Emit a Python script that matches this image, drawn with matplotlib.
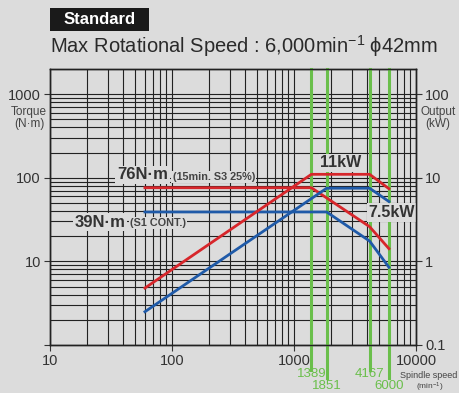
import matplotlib
matplotlib.use('Agg')
import matplotlib.pyplot as plt
import matplotlib.transforms as mtransforms
from matplotlib.patches import Rectangle

# ---------- data ----------
rpm_s3 = [60, 1389, 4167, 6000]
torque_s3 = [76, 76, 26, 14.2]          # N*m, 15min S3 25%
output_s3 = [0.48, 11, 11, 7.4]         # kW
rpm_s1 = [60, 1851, 4167, 6000]
torque_s1 = [39, 39, 17.5, 8.5]         # N*m, S1 cont.
output_s1 = [0.25, 7.5, 7.5, 5.2]       # kW
marker_rpm = [1389, 1851, 4167, 6000]
marker_labels = ['1389', '1851', '4167', '6000']

BG = '#dcdcdc'
RED = '#d7262b'
BLUE = '#1f5aa8'
GREEN = '#6abf4b'
TXT = '#333333'
plt.rcParams['font.family'] = ['Liberation Sans', 'DejaVu Sans']
plt.rcParams['mathtext.default'] = 'regular'

W, H = 460, 393
fig = plt.figure(figsize=(W / 100, H / 100), dpi=100, facecolor=BG)
ax = fig.add_axes([50 / W, 48 / H, 366 / W, 276 / H], facecolor=BG)
ax2 = ax.twinx()

ax.set_xscale('log'); ax.set_yscale('log'); ax2.set_yscale('log')
ax.set_xlim(10, 10000)
ax.set_ylim(1, 2000)
ax2.set_ylim(0.1, 200)

ax.grid(True, which='both', color='#222222', lw=0.8)
ax.set_axisbelow(True)

ax.set_xticks([10, 100, 1000, 10000])
ax.set_xticklabels(['10', '100', '1000', '10000'])
ax.set_yticks([1, 10, 100, 1000])
ax.set_yticklabels(['', '10', '100', '1000'])
ax2.set_yticks([0.1, 1, 10, 100])
ax2.set_yticklabels(['0.1', '1', '10', '100'])
for a in (ax, ax2):
    a.tick_params(which='minor', length=0)
    a.tick_params(which='major', length=4.5, width=0.8, labelsize=10.5, colors=TXT, pad=2)
    for s in a.spines.values():
        s.set_color('#222222'); s.set_linewidth(1.0)
ax2.yaxis.set_minor_formatter(plt.NullFormatter())
ax.yaxis.set_minor_formatter(plt.NullFormatter())
ax.xaxis.set_minor_formatter(plt.NullFormatter())

# green marker lines, labels staggered below the axis
trans = mtransforms.blended_transform_factory(ax.transData, ax.transAxes)
for i, (r, lab) in enumerate(zip(marker_rpm, marker_labels)):
    low = -0.09 if i % 2 == 0 else -0.12
    ax.plot([r, r], [1, low], transform=trans, color=GREEN, lw=2.2, clip_on=False, zorder=3)
    ty = -0.105 if i % 2 == 0 else -0.150
    ax.text(r, ty, lab, transform=trans, ha='center', va='center', color=GREEN, fontsize=9.5)

# curves
ax.plot(rpm_s3, torque_s3, color=RED, lw=2, zorder=4)
ax.plot(rpm_s1, torque_s1, color=BLUE, lw=2, zorder=4)
ax2.plot(rpm_s3, output_s3, color=RED, lw=2, zorder=4)
ax2.plot(rpm_s1, output_s1, color=BLUE, lw=2, zorder=4)

box = dict(boxstyle='square,pad=0.1', fc=BG, ec='none')
ax.text(35.5, 108, '76N·m', fontsize=12, fontweight='bold', color=TXT,
        va='center', ha='left', bbox=box, zorder=5)
ax.text(101, 102, '(15min. S3 25%)', fontsize=7.8, fontweight='bold', color='#444444',
        va='center', ha='left', bbox=box, zorder=5)
ax.text(15.8, 29.5, '39N·m', fontsize=12, fontweight='bold', color=TXT,
        va='center', ha='left', bbox=box, zorder=5)
ax.text(45, 29, '(S1 CONT.)', fontsize=7.8, fontweight='bold', color='#444444',
        va='center', ha='left', bbox=box, zorder=5)
ax.text(2430, 151, '11kW', fontsize=11.5, fontweight='bold', color=TXT,
        va='center', ha='center', bbox=box, zorder=5)
ax.text(6300, 38.5, '7.5kW', fontsize=11.5, fontweight='bold', color=TXT,
        va='center', ha='center', bbox=box, zorder=5)

# axis titles
fig.text(29 / W, 1 - 118 / H, 'Torque\n(N·m)', ha='center', va='center',
         fontsize=8.5, color='#444444', linespacing=1.05)
fig.text(438 / W, 1 - 118 / H, 'Output\n(kW)', ha='center', va='center',
         fontsize=8.5, color='#444444', linespacing=1.05)
fig.text(429 / W, 1 - 375 / H, 'Spindle speed', ha='center', va='center',
         fontsize=6.5, color='#444444')
fig.text(430 / W, 1 - 387 / H, '(min$^{-1}$)', ha='center', va='center',
         fontsize=6, color='#444444')

# header
fig.patches.append(Rectangle((50 / W, 1 - 31 / H), 99 / W, 23 / H,
                             transform=fig.transFigure, fc='#1a1a1a', ec='none'))
fig.text(99.5 / W, 1 - 19.5 / H, 'Standard', ha='center', va='center', fontsize=12,
         fontweight='bold', color='white')
fig.text(50 / W, 1 - 46 / H, 'Max Rotational Speed : 6,000min$^{-1}$ ϕ42mm',
         ha='left', va='center', fontsize=14.5, color='#2a2a2a')

fig.savefig('out.png', dpi=100, facecolor=BG)
